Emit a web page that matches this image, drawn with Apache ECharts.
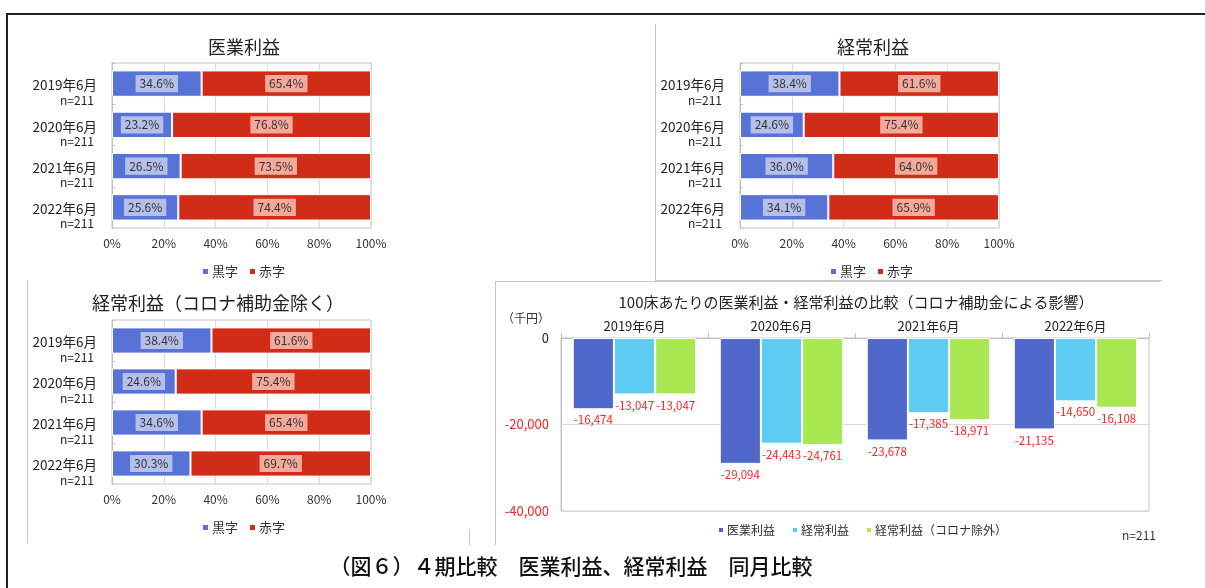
<!DOCTYPE html>
<html>
<head>
<meta charset="utf-8">
<script src="https://cdn.jsdelivr.net/npm/echarts@6/dist/echarts.min.js"></script>
<style>
  html, body { margin: 0; padding: 0; background: #fff; }
  #main { width: 1205px; height: 588px; }
</style>
</head>
<body>
<div id="main"></div>
<script>
// 期間
var periods = ['2019年6月', '2020年6月', '2021年6月', '2022年6月'];
var sampleN = 'n=211';

// 医業利益（黒字・赤字の割合 %）
var iryoBlack = [34.6, 23.2, 26.5, 25.6];
var iryoRed = [65.4, 76.8, 73.5, 74.4];
// 経常利益
var keijoBlack = [38.4, 24.6, 36.0, 34.1];
var keijoRed = [61.6, 75.4, 64.0, 65.9];
// 経常利益（コロナ補助金除く）
var exBlack = [38.4, 24.6, 34.6, 30.3];
var exRed = [61.6, 75.4, 65.4, 69.7];

// 100床あたり（千円）
var bedIryo = [-16474, -29094, -23678, -21135];
var bedKeijo = [-13047, -24443, -17385, -14650];
var bedEx = [-13047, -24761, -18971, -16108];

var JP = '"Noto Sans CJK JP", "Noto Sans", sans-serif';
var NARROW = '"Liberation Sans Narrow", "Noto Sans CJK JP", sans-serif';
var BLUE = '#5773d7';
var RED = '#d12c17';

function comma(v) {
    var s = Math.abs(v).toString().replace(/\B(?=(\d{3})+(?!\d))/g, ',');
    return (v < 0 ? '-' : '') + s;
}

var myChart = echarts.init(document.getElementById('main'));

// 帯グラフ 3つ分の grid
var stackGrids = [
    { left: 112, top: 63, width: 259, height: 165 },
    { left: 740, top: 63, width: 259, height: 165 },
    { left: 112, top: 320, width: 259, height: 164 }
];
var stackData = [
    [iryoBlack, iryoRed],
    [keijoBlack, keijoRed],
    [exBlack, exRed]
];

var grids = [];
var xAxes = [];
var yAxes = [];
var series = [];

stackGrids.forEach(function (g, i) {
    grids.push({
        left: g.left, top: g.top, width: g.width, height: g.height,
        show: true, borderColor: '#c6c6c6', borderWidth: 1
    });
    xAxes.push({
        type: 'value', gridIndex: i, min: 0, max: 100, interval: 20,
        axisLine: { show: false },
        axisTick: { show: false },
        splitLine: { lineStyle: { color: '#d9d9d9' } },
        axisLabel: { formatter: '{value}%', color: '#333', fontSize: 12, fontFamily: JP, margin: 9 }
    });
    yAxes.push({
        type: 'category', gridIndex: i, data: periods, inverse: true,
        axisLine: { lineStyle: { color: '#bfbfbf' } },
        axisTick: { show: true, inside: true, length: 3, lineStyle: { color: '#bfbfbf' } },
        axisLabel: {
            margin: 15,
            padding: [18, 0, 0, 0],
            formatter: function (v) { return '{a|' + v + '}\n{b|' + sampleN + '}'; },
            rich: {
                a: { fontSize: 13.5, color: '#222', fontFamily: JP, lineHeight: 15, align: 'right' },
                b: { fontSize: 12, color: '#222', fontFamily: JP, lineHeight: 15, align: 'right', padding: [0, 3, 0, 0] }
            }
        }
    });
    var names = ['黒字', '赤字'];
    var colors = [BLUE, RED];
    var labelBg = ['#b5c0ea', '#f3aa9c'];
    stackData[i].forEach(function (vals, k) {
        series.push({
            name: names[k], type: 'bar', stack: 'st' + i,
            xAxisIndex: i, yAxisIndex: i,
            barWidth: '64%',
            data: vals,
            itemStyle: { color: colors[k], borderColor: '#fff', borderWidth: 1 },
            label: {
                show: true, position: 'inside',
                formatter: function (p) { return p.value.toFixed(1) + '%'; },
                color: '#333', fontSize: 12, fontFamily: JP,
                backgroundColor: labelBg[k], padding: [3, 4, 2, 4]
            }
        });
    });
});

// 100床あたり 縦棒
grids.push({ left: 561, top: 338, width: 588, height: 173, show: true, borderColor: '#c6c6c6', borderWidth: 1 });
xAxes.push({
    type: 'category', gridIndex: 3, data: periods, position: 'top',
    axisLine: { lineStyle: { color: '#bfbfbf' } },
    axisTick: { show: true, length: 5, lineStyle: { color: '#bfbfbf' } },
    axisLabel: { color: '#222', fontSize: 13, fontFamily: JP, margin: 5 }
});
yAxes.push({
    type: 'value', gridIndex: 3, min: -40000, max: 0, interval: 20000,
    axisLine: { show: true, lineStyle: { color: '#bfbfbf' } },
    axisTick: { show: false },
    splitLine: { lineStyle: { color: '#d9d9d9' } },
    axisLabel: {
        margin: 12, fontSize: 13, fontFamily: NARROW,
        formatter: function (v) { return comma(v); },
        color: function (v) { return Number(v) < 0 ? '#ff2020' : '#222'; }
    }
});
var bedNames = ['医業利益', '経常利益', '経常利益（コロナ除外）'];
var bedColors = ['#4f68c9', '#5ecbf2', '#a9e852'];
[bedIryo, bedKeijo, bedEx].forEach(function (vals, k) {
    series.push({
        name: bedNames[k], type: 'bar', xAxisIndex: 3, yAxisIndex: 3,
        barGap: '0%', barCategoryGap: '16%',
        data: vals,
        itemStyle: { color: bedColors[k], borderColor: '#fff', borderWidth: 1 },
        label: {
            show: true, position: 'bottom', distance: 5,
            formatter: function (p) { return comma(p.value); },
            color: '#ff2020', fontSize: 11.5, fontFamily: NARROW
        }
    });
});

function stackLegend(left, top) {
    return {
        left: left, top: top, data: ['黒字', '赤字'],
        icon: 'rect', itemWidth: 7, itemHeight: 7, itemGap: 10,
        textStyle: { color: '#333', fontSize: 13, fontFamily: JP, padding: [0, 0, 0, -2] },
        selectedMode: false
    };
}

function hline(x1, x2, y, color, w) {
    return { type: 'line', shape: { x1: x1, y1: y, x2: x2, y2: y }, style: { stroke: color, lineWidth: w } };
}
function vline(x, y1, y2, color, w) {
    return { type: 'line', shape: { x1: x, y1: y1, x2: x, y2: y2 }, style: { stroke: color, lineWidth: w } };
}
function text(x, y, str, font, color, align) {
    return {
        type: 'text',
        style: { x: x, y: y, text: str, font: font, fill: color || '#222', textAlign: align || 'center', textVerticalAlign: 'middle' }
    };
}

var option = {
    animation: false,
    backgroundColor: '#fff',
    grid: grids,
    xAxis: xAxes,
    yAxis: yAxes,
    legend: [
        stackLegend(196, 260),
        stackLegend(824, 260),
        stackLegend(196, 516),
        {
            left: 712, top: 519, data: bedNames,
            icon: 'rect', itemWidth: 6, itemHeight: 6, itemGap: 16,
            textStyle: { color: '#333', fontSize: 12, fontFamily: NARROW, padding: [0, 0, 0, -2] },
            selectedMode: false
        }
    ],
    series: series,
    graphic: [
        // 外枠
        hline(6, 1205, 14, '#222', 2),
        vline(7, 13, 588, '#222', 2),
        // 各図の枠
        vline(655.5, 24, 281, '#c8c8c8', 1),
        hline(655, 1162, 280.5, '#c8c8c8', 1),
        vline(27.5, 280, 543, '#c8c8c8', 1),
        vline(469.5, 530, 545, '#c8c8c8', 1),
        hline(495, 1160, 281.5, '#c8c8c8', 1),
        vline(495.5, 281, 545, '#c8c8c8', 1),
        // タイトル
        text(244, 47, '医業利益', '18px ' + JP, '#222'),
        text(873, 47, '経常利益', '18px ' + JP, '#222'),
        text(218, 303, '経常利益（コロナ補助金除く）', '18px ' + JP, '#222'),
        text(856, 302, '100床あたりの医業利益・経常利益の比較（コロナ補助金による影響）', '15px ' + NARROW, '#222'),
        text(526, 318, '（千円）', '12px ' + NARROW, '#333'),
        text(1156, 535, 'n=211', '12px ' + NARROW, '#333', 'right'),
        text(571, 566, '（図６）４期比較　医業利益、経常利益　同月比較', '500 21px ' + JP, '#111')
    ]
};
myChart.setOption(option);
</script>
</body>
</html>
